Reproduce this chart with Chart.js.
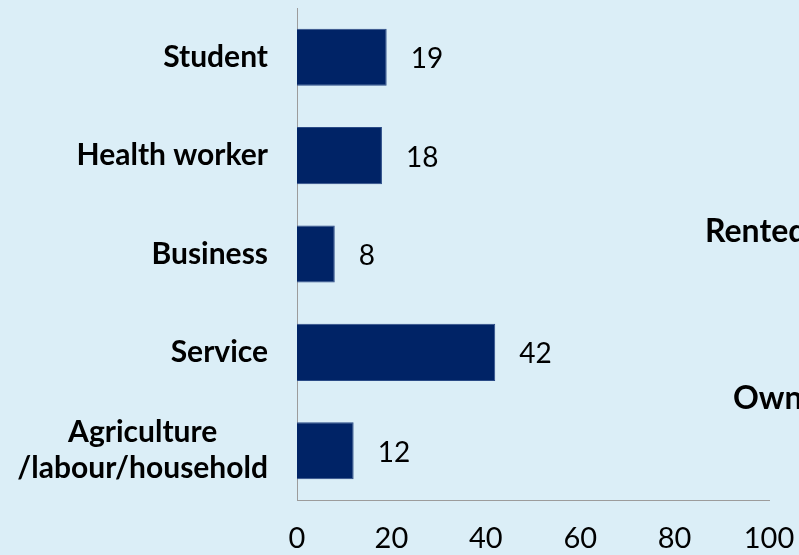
<!DOCTYPE html>
<html>
<head>
<meta charset="utf-8">
<script src="https://cdn.jsdelivr.net/npm/chart.js@4"></script>
<style>
    html, body { margin: 0; padding: 0; }
    body { width: 799px; height: 555px; overflow: hidden; background: #dbeef7; position: relative; font-family: Lato, sans-serif; }
    #wrap { position: absolute; left: 0; top: 0; width: 799px; height: 555px; }
    .side { position: absolute; font-weight: bold; font-size: 32px; color: #000; white-space: nowrap; }
</style>
</head>
<body>
<div id="wrap"><canvas id="occupationChart"></canvas></div>
<div class="side" style="left:705px; top:210px;">Rented</div>
<div class="side" style="left:733px; top:377px;">Owned</div>
<script>
// occupation shares (%)
const occupations = ["Student", "Health worker", "Business", "Service", ["Agriculture", "/labour/household"]];
const shares = [19, 18, 8, 42, 12];
const xTicks = [0, 20, 40, 60, 80, 100];

const barColor = "#002366";
const labelFont = "bold 30px Lato";
const valueFont = "28px Lato";

// category names drawn next to the y axis, multi-line names centred on each other
const categoryLabels = {
    id: "categoryLabels",
    afterDraw(chart) {
        const ctx = chart.ctx;
        const yScale = chart.scales.y;
        const right = chart.chartArea.left - 29;
        ctx.save();
        ctx.font = labelFont;
        ctx.fillStyle = "#000";
        ctx.textBaseline = "middle";
        ctx.textAlign = "center";
        occupations.forEach((name, i) => {
            const lines = Array.isArray(name) ? name : [name];
            const w = Math.max(...lines.map(l => ctx.measureText(l).width));
            const cy = yScale.getPixelForValue(i);
            const lh = 36;
            lines.forEach((line, j) => {
                const y = cy + (j - (lines.length - 1) / 2) * lh;
                ctx.fillText(line, right - w / 2, y);
            });
        });
        ctx.restore();
    }
};

// value printed to the right of each bar
const valueLabels = {
    id: "valueLabels",
    afterDatasetsDraw(chart) {
        const ctx = chart.ctx;
        const meta = chart.getDatasetMeta(0);
        ctx.save();
        ctx.font = valueFont;
        ctx.fillStyle = "#000";
        ctx.textAlign = "left";
        ctx.textBaseline = "middle";
        meta.data.forEach((bar, i) => {
            ctx.fillText(String(shares[i]), bar.x + 24, bar.y + 2);
        });
        ctx.restore();
    }
};

new Chart(document.getElementById("occupationChart"), {
    type: "bar",
    data: {
        labels: occupations.map(o => Array.isArray(o) ? o.join(" ") : o),
        datasets: [{
            data: shares,
            backgroundColor: barColor,
            borderColor: "#2a4a86",
            borderWidth: 1,
            categoryPercentage: 1,
            barPercentage: 0.58
        }]
    },
    options: {
        indexAxis: "y",
        responsive: true,
        maintainAspectRatio: false,
        animation: false,
        layout: { padding: { top: 8, right: 30, left: 0, bottom: 0 } },
        plugins: {
            legend: { display: false },
            tooltip: { enabled: false }
        },
        scales: {
            x: {
                min: 0,
                max: 100,
                afterBuildTicks(scale) {
                    scale.ticks = xTicks.map(v => ({ value: v }));
                },
                afterFit(scale) {
                    scale.height = 55;
                    scale.paddingLeft = 0;
                    scale.paddingRight = 0;
                },
                grid: { display: false, drawTicks: false },
                border: { display: true, color: "#9c9c9c", width: 1 },
                ticks: {
                    padding: 21,
                    color: "#000",
                    font: { family: "Lato", size: 29 }
                }
            },
            y: {
                afterFit(scale) { scale.width = 297; },
                grid: { display: false, drawTicks: false },
                border: { display: true, color: "#9c9c9c", width: 1 },
                ticks: { display: false }
            }
        }
    },
    plugins: [categoryLabels, valueLabels]
});
</script>
</body>
</html>
